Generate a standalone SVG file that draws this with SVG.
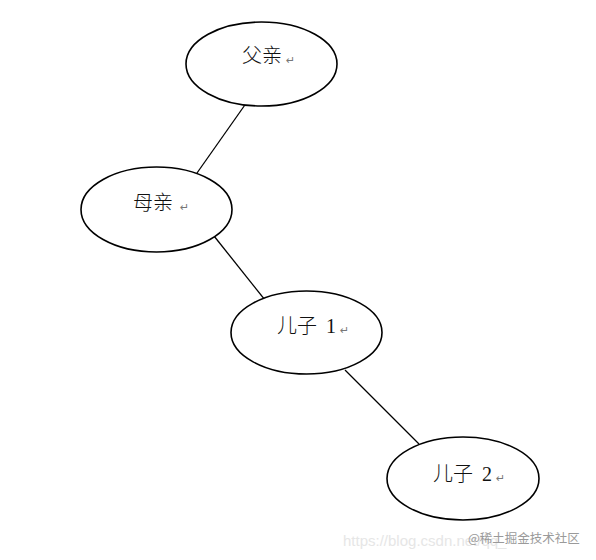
<svg xmlns="http://www.w3.org/2000/svg" width="596" height="560" viewBox="0 0 596 560">
  <style>
    .node ellipse { fill: #ffffff; stroke: #000000; stroke-width: 1.6; }
    .label { font-family: "Liberation Serif", "Noto Sans CJK SC", serif; font-size: 20px; font-weight: 300; fill: #111111; }
    .mark { font-family: "DejaVu Sans", sans-serif; font-size: 11px; fill: #777777; }
    .edges line { stroke: #000000; stroke-width: 1.3; }
    .wm-url { font-family: "Liberation Sans", sans-serif; font-size: 15px; fill: #e6e6e6; }
    .wm { font-family: "Noto Sans CJK SC", sans-serif; font-size: 12.5px; fill: #9a9a9a; }
  </style>
  <rect width="596" height="560" fill="#ffffff"/>
  <g id="connectors" class="edges">
    <line x1="247" y1="102" x2="197" y2="173"/>
    <line x1="214" y1="236" x2="269" y2="305"/>
    <line x1="345" y1="370" x2="419" y2="444"/>
  </g>
  <g id="node-father" class="node">
    <ellipse cx="261.5" cy="64" rx="75.5" ry="42"/>
    <text class="label" x="242" y="63">父亲</text>
    <text class="mark" x="286" y="64">↵</text>
  </g>
  <g id="node-mother" class="node">
    <ellipse cx="156.5" cy="209.5" rx="75.5" ry="42.5"/>
    <text class="label" x="133" y="210">母亲</text>
    <text class="mark" x="180" y="211">↵</text>
  </g>
  <g id="node-son1" class="node">
    <ellipse cx="306.5" cy="332.5" rx="75.5" ry="41.5"/>
    <text class="label" x="277" y="333">儿子<tspan dx="4"> 1</tspan></text>
    <text class="mark" x="340" y="334">↵</text>
  </g>
  <g id="node-son2" class="node">
    <ellipse cx="463" cy="478.5" rx="76" ry="41.5"/>
    <text class="label" x="433" y="481">儿子<tspan dx="4"> 2</tspan></text>
    <text class="mark" x="496" y="482">↵</text>
  </g>
  <g id="watermark">
    <text class="wm-url" x="343" y="546">https://blog.csdn.net/qq_</text>
    <text class="wm" x="468" y="543">@稀土掘金技术社区</text>
  </g>
</svg>
